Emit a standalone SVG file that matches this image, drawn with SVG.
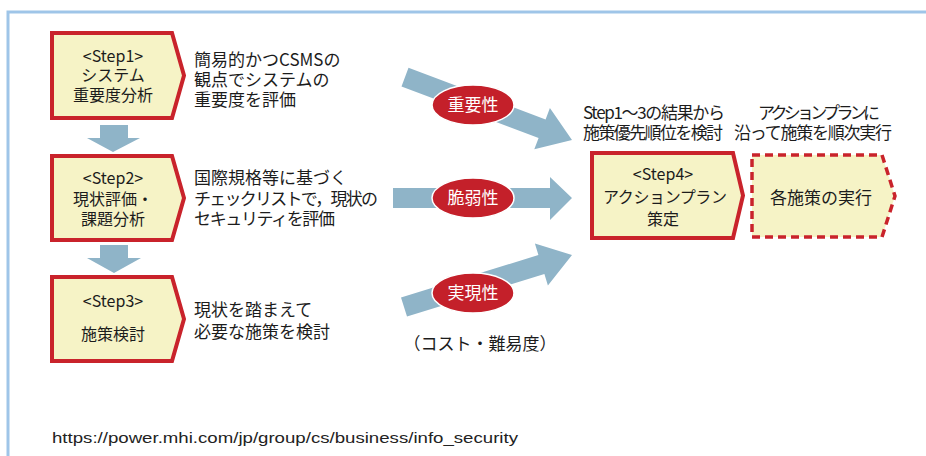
<svg xmlns="http://www.w3.org/2000/svg" width="926" height="456" viewBox="0 0 926 456">
<style>
.t{font-family:"Noto Sans CJK JP","Noto Sans",sans-serif;fill:#1c1c1c;font-size:17px}
.b{font-size:16px}
.c{text-anchor:middle}
.w{fill:#ffffff;font-size:17px}
.box{fill:#f6f3c6;stroke:#c9232b;stroke-width:4;stroke-linejoin:miter}
.dash{fill:#f6f3c6;stroke:#c9232b;stroke-width:3.5;stroke-dasharray:8 5}
.arr{fill:#8fb4c8}
.ell{fill:#c4202a;stroke:#ffffff;stroke-width:1.5}
</style>
<rect x="0" y="0" width="926" height="456" fill="#ffffff"/>
<path d="M8 456 V12 H926" fill="none" stroke="#9fc5e8" stroke-width="3"/>

<g id="connectors">
  <polygon class="arr" points="100,125 128,125 128,138 140,138 113,152 87,138 100,138"/>
  <polygon class="arr" points="100,245 128,245 128,258 141,258 114,273 87,258 100,258"/>
  <polygon class="arr" points="408.5,67.7 545.6,119.4 549.9,108.1 572,140 534.3,149.3 538.6,138.1 401.5,86.4"/>
  <polygon class="arr" points="393,188 550,188 550,177 572,198 550,220 550,208 393,208"/>
  <polygon class="arr" points="401,297.5 538.4,255 534.9,243.5 572,255 547.9,285.5 544.4,274.1 407,316.6"/>
</g>

<g id="step1">
  <polygon class="box" points="52,33 172,33 184,75.5 172,118 52,118"/>
  <text class="t b c" x="113" y="62">&lt;Step1&gt;</text>
  <text class="t b c" x="113" y="81">システム</text>
  <text class="t b c" x="113" y="101">重要度分析</text>
</g>
<g id="step1-desc">
  <text class="t" x="194" y="66">簡易的かつCSMSの</text>
  <text class="t" x="194" y="86">観点でシステムの</text>
  <text class="t" x="194" y="106">重要度を評価</text>
</g>

<g id="step2">
  <polygon class="box" points="52,156 172,156 184,198 172,240 52,240"/>
  <text class="t b c" x="113" y="184">&lt;Step2&gt;</text>
  <text class="t b c" x="113" y="205">現状評価・</text>
  <text class="t b c" x="113" y="225">課題分析</text>
</g>
<g id="step2-desc">
  <text class="t" x="194" y="184">国際規格等に基づく</text>
  <text class="t" x="194" y="205" textLength="184">チェックリストで，現状の</text>
  <text class="t" x="194" y="225" textLength="141">セキュリティを評価</text>
</g>

<g id="step3">
  <polygon class="box" points="52,277 172,277 184,319 172,361 52,361"/>
  <text class="t b c" x="113" y="307">&lt;Step3&gt;</text>
  <text class="t b c" x="113" y="340">施策検討</text>
</g>
<g id="step3-desc">
  <text class="t" x="194" y="316">現状を踏まえて</text>
  <text class="t" x="194" y="338">必要な施策を検討</text>
</g>

<g id="importance">
  <ellipse class="ell" cx="473" cy="105" rx="41" ry="20"/>
  <text class="t c w" x="473" y="111">重要性</text>
</g>
<g id="vulnerability">
  <ellipse class="ell" cx="473" cy="198" rx="41" ry="20"/>
  <text class="t c w" x="473" y="204">脆弱性</text>
</g>
<g id="feasibility">
  <ellipse class="ell" cx="473" cy="293" rx="41" ry="20"/>
  <text class="t c w" x="473" y="299">実現性</text>
  <text class="t c" x="480" y="350" font-size="14">（コスト・難易度）</text>
</g>

<g id="step4-desc">
  <text class="t" x="583" y="119" font-size="16" textLength="142">Step1～3の結果から</text>
  <text class="t" x="583" y="139" font-size="16" textLength="140">施策優先順位を検討</text>
</g>
<g id="step4">
  <polygon class="box" points="592,153 733,153 743,195.5 733,238 592,238"/>
  <text class="t b c" x="663" y="180">&lt;Step4&gt;</text>
  <text class="t b c" x="665" y="203" textLength="124">アクションプラン</text>
  <text class="t b c" x="663" y="225">策定</text>
</g>

<g id="exec-desc">
  <text class="t" x="758" y="119" font-size="16" textLength="122">アクションプランに</text>
  <text class="t" x="734" y="139" font-size="16" textLength="158">沿って施策を順次実行</text>
</g>
<g id="exec">
  <polygon class="dash" points="752,155 882,155 895,196 882,237 752,237"/>
  <text class="t c" x="821" y="204" font-size="18">各施策の実行</text>
</g>

<g id="source">
  <text x="52" y="443" font-family="'Liberation Sans',Arial,sans-serif" font-size="15" fill="#222222" textLength="466" lengthAdjust="spacingAndGlyphs">https://power.mhi.com/jp/group/cs/business/info_security</text>
</g>
</svg>
